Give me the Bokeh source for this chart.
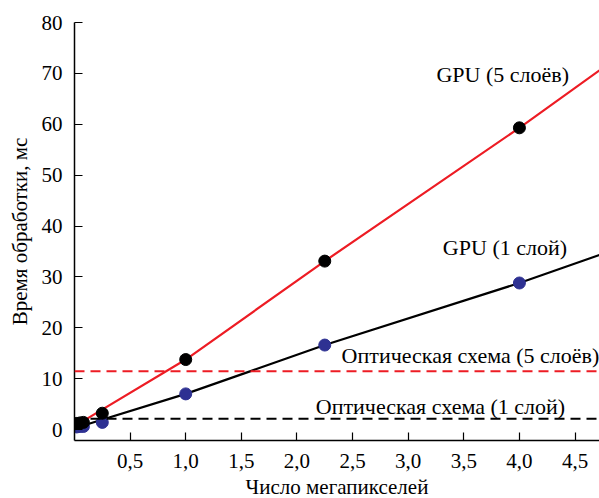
from bokeh.plotting import figure
from bokeh.models import Range1d, FixedTicker, CustomJSTickFormatter, Span, ColumnDataSource
from bokeh.core.properties import value
from bokeh.embed import file_html
from bokeh.resources import INLINE

# Measured processing time (ms) versus image size (megapixels)
mp = [0.02, 0.05, 0.08, 0.25, 1.0, 2.25, 4.0]
gpu5_ms = [1.2, 1.3, 1.4, 3.2, 13.75, 33.1, 59.3]
gpu1_ms = [0.5, 0.6, 0.6, 1.4, 7.0, 16.6, 28.8]

# Trend lines for both GPU configurations
fit_mp = [0.05, 1.0, 2.25, 4.0, 4.72]
gpu5_fit = [1.3, 13.75, 33.1, 59.3, 70.6]
gpu1_fit = [0.6, 7.0, 16.6, 28.8, 34.3]

# Optical scheme: constant time independent of image size
optical5_ms = 11.45
optical1_ms = 2.1

x_ticks = [0.5, 1.0, 1.5, 2.0, 2.5, 3.0, 3.5, 4.0, 4.5]
y_ticks = [0, 10, 20, 30, 40, 50, 60, 70, 80]

labels = ["GPU (5 слоёв)", "GPU (1 слой)", "Оптическая схема (5 слоёв)", "Оптическая схема (1 слой)"]

FONT = "Liberation Serif"
RED = "#ED1C24"
BLUE = "#2E3192"

p = figure(width=599, height=498, frame_width=525, frame_height=418,
           min_border_left=74, min_border_right=0, min_border_top=22, min_border_bottom=58,
           x_range=Range1d(0, 4.72), y_range=Range1d(-2.16, 80),
           output_backend="svg", toolbar_location=None)

p.outline_line_color = None
p.xgrid.visible = False
p.ygrid.visible = False
p.background_fill_color = "white"
p.border_fill_color = "white"

for ax in (p.xaxis[0], p.yaxis[0]):
    ax.axis_line_color = "black"
    ax.axis_line_width = 1.5
    ax.major_tick_line_color = "black"
    ax.major_tick_line_width = 1.2
    ax.major_tick_in = 8
    ax.major_tick_out = 0
    ax.minor_tick_line_color = None
    ax.major_label_text_font = FONT
    ax.major_label_text_font_size = "21px"
    ax.major_label_text_color = "black"
    ax.axis_label_text_font = FONT
    ax.axis_label_text_font_size = "21px"
    ax.axis_label_text_font_style = "normal"
    ax.axis_label_text_color = "black"

p.xaxis.ticker = FixedTicker(ticks=x_ticks)
p.yaxis.ticker = FixedTicker(ticks=y_ticks)
p.xaxis.formatter = CustomJSTickFormatter(code="return tick.toFixed(1).replace('.', ',');")
p.xaxis.major_label_standoff = 13
p.yaxis.major_label_standoff = 12
p.xaxis.axis_label = "Число мегапикселей"
p.yaxis.axis_label = "Время обработки, мс"
p.xaxis.axis_label_standoff = 4
p.yaxis.axis_label_standoff = 7

# constant-time optical scheme levels
p.add_layout(Span(location=optical5_ms, dimension="width", line_color=RED,
                  line_width=2, line_dash="10 6"))
p.add_layout(Span(location=optical1_ms, dimension="width", line_color="black",
                  line_width=2, line_dash="10 6"))

p.line(fit_mp, gpu5_fit, line_color=RED, line_width=2.2)
p.line(fit_mp, gpu1_fit, line_color="black", line_width=2.2)

p.scatter(mp, gpu1_ms, size=12, fill_color=BLUE, line_color=BLUE)
p.scatter(mp, gpu5_ms, size=12, fill_color="black", line_color="black")

src = ColumnDataSource(dict(
    x=[3.85, 3.87, 3.56, 3.29],
    y=[69.7, 35.8, 14.5, 4.6],
    t=labels,
))
p.text(x="x", y="y", text="t", source=src, text_font=value(FONT), text_font_size="22px",
       text_color="black", text_align="center", text_baseline="middle")

open("out.html", "w").write(file_html(p, INLINE))
